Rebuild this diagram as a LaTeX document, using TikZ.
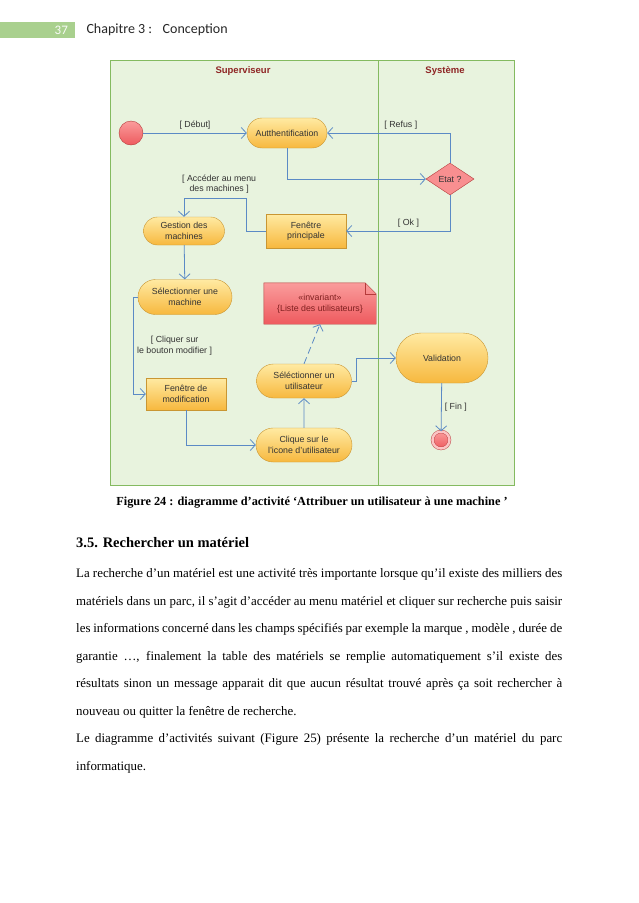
\documentclass[tikz,border=0pt]{standalone}
\usepackage{fontspec}
\setmainfont{Liberation Serif}
\setsansfont{Liberation Sans}
\newfontfamily\hdrfont{Carlito}
\usepackage{tikz}
\usetikzlibrary{arrows.meta,positioning,shapes.geometric,shapes.misc,backgrounds}
\definecolor{lanefill}{HTML}{E8F3DE}
\definecolor{laneline}{HTML}{84BA60}
\definecolor{flow}{HTML}{5B8AC5}
\definecolor{acttop}{HTML}{FFEAA2}
\definecolor{actbot}{HTML}{F7B83E}
\definecolor{actline}{HTML}{C99633}
\definecolor{redtop}{HTML}{FA9C9C}
\definecolor{redbot}{HTML}{EE5A5E}
\definecolor{redline}{HTML}{B53A3A}
\definecolor{lanetitle}{HTML}{8E2424}
\definecolor{hdrgreen}{HTML}{A9D08E}

\begin{document}
\begin{tikzpicture}[x=1pt,y=-1pt,>={Straight Barb[length=5pt,width=11pt]},
 lbl/.style={font=\sffamily\fontsize{8.8}{10.5}\selectfont,text=black!80,align=center,inner sep=1pt},
 act/.style={rounded rectangle,draw=actline,top color=acttop,bottom color=actbot,lbl,minimum height=28pt},
 win/.style={rectangle,draw=actline,top color=acttop,bottom color=actbot,lbl,minimum width=80pt,minimum height=33pt},
 decision/.style={diamond,draw=redline,fill=redtop!80!redbot,lbl,inner sep=0pt,minimum width=48pt,minimum height=32pt},
 lane/.style={draw=laneline,fill=lanefill,line width=0.8pt},
 lanename/.style={font=\sffamily\bfseries\fontsize{9.5}{11}\selectfont,text=lanetitle},
 flow/.style={draw=flow,line width=0.8pt,->},
 body/.style={font=\fontsize{12.9}{27.5}\selectfont,inner sep=0pt}]
\useasboundingbox (0,0) rectangle (638,903);
% page header
\node[fill=hdrgreen,minimum width=75pt,minimum height=16pt,inner sep=0pt,anchor=west] (bar) at (0,30) {};
\node[font=\hdrfont\fontsize{13}{15}\selectfont,text=white!92!hdrgreen,anchor=east] (pg) at ([xshift=-4pt]bar.east) {37};
\node[font=\hdrfont\fontsize{14}{16}\selectfont,text=black!85,anchor=west] (chap) at (83,30) {Chapitre 3 :~~ Conception};
% swimlanes
\begin{scope}[on background layer]
\draw[lane] (110,60) rectangle (378,485);
\draw[lane] (378,60) rectangle (514,485);
\end{scope}
\node[lanename] (sup) at (243,71) {Superviseur};
\node[lanename] (sys) at (445,71) {Système};
% activity nodes
\node[circle,draw=redline,top color=redtop,bottom color=redbot,minimum size=24pt,inner sep=0pt] (start) at (131,133) {};
\node[act,minimum width=82pt,minimum height=30pt] (auth) at (287,133) {Autthentification};
\node[decision] (etat) at (450,179) {Etat ?};
\node[win,minimum height=34pt] (fprinc) at (306,231) {Fenêtre\\principale};
\node[act,minimum width=83pt] (gestion) at (184,231) {Gestion des\\machines};
\node[act,minimum width=96pt,minimum height=35pt] (selmach) at (185,297) {Sélectionner une\\machine};
\node[win,minimum height=32pt] (fmodif) at (186,394) {Fenêtre de\\modification};
\node[act,minimum width=98pt,minimum height=34pt] (clique) at (304,445) {Clique sur le\\l'icone d'utilisateur};
\node[act,minimum width=97pt,minimum height=34pt] (selutil) at (304,381) {Séléctionner un\\utilisateur};
\node[lbl,text=lanetitle!90!black,minimum width=112pt,minimum height=41pt] (note) at (320,303.5) {«invariant»\\\{Liste des utilisateurs\}};
\node[act,minimum width=94pt,minimum height=50pt] (valid) at (442,358) {Validation};
\node[circle,draw=redline,top color=redtop,bottom color=redbot,minimum size=17pt,inner sep=0pt,double=redtop!60!white,double distance=2.5pt] (fin) at (441,440) {};
\begin{scope}[on background layer]
\draw[redline,top color=redtop,bottom color=redbot] (note.north west) -- ([xshift=-11pt]note.north east) -- ([yshift=-11pt]note.north east) -- (note.south east) -- (note.south west) -- cycle;
\draw[redline] ([xshift=-11pt]note.north east) -- ([xshift=-11pt,yshift=-11pt]note.north east) -- ([yshift=-11pt]note.north east);
\end{scope}
% control flows
\draw[flow] (start) -- node[lbl,above=2pt]{[ Début]} (auth);
\draw[flow] (auth.south) |- (etat.west);
\draw[flow] (etat.north) |- node[lbl,pos=0.7,above=2pt]{[ Refus ]} (auth.east);
\draw[flow] (etat.south) |- node[lbl,pos=0.7,above=2pt]{[ Ok ]} (fprinc.east);
\draw[flow] (fprinc.west) -- ++(-19,0) |- node[lbl,pos=0.72,above=4pt]{[ Accéder au menu\\des machines ]} ([yshift=18pt]gestion.north) -- (gestion.north);
\draw[flow] (gestion) -- (selmach);
\draw[flow] (selmach.west) -- ++(-4,0) |- node[lbl,pos=0.25,right=2pt]{[ Cliquer sur\\le bouton modifier ]} (fmodif.west);
\draw[flow] (fmodif.south) |- (clique.west);
\draw[flow] (clique) -- (selutil);
\draw[flow,dash pattern=on 7pt off 4pt] (selutil.north) -- (note.south);
\draw[flow] (selutil.east) -- ++(5,0) |- (valid.west);
\draw[flow] (valid) -- node[lbl,right=2pt]{[ Fin ]} (fin);
% caption and text
\node[font=\bfseries\fontsize{12.3}{14}\selectfont] (cap) at (312,503) {Figure 24 : diagramme d’activité ‘Attribuer un utilisateur à une machine ’};
\node[font=\bfseries\fontsize{14.5}{17}\selectfont,anchor=base west,inner sep=0pt] (sec) at (76,547) {3.5. Rechercher un matériel};
\node[body,text width=486pt,align=justify,anchor=base west] (para) at (76,577.5) {La recherche d’un matériel est une activité très importante lorsque qu’il existe des milliers des\linebreak
matériels dans un parc, il s’agit d’accéder au menu matériel et cliquer sur recherche puis saisir\linebreak
les informations concerné dans les champs spécifiés par exemple la marque , modèle , durée de\linebreak
garantie …, finalement la table des matériels se remplie automatiquement s’il existe des\linebreak
résultats sinon un message apparait dit que aucun résultat trouvé après ça soit rechercher à\linebreak
nouveau ou quitter la fenêtre de recherche.\\
Le diagramme d’activités suivant (Figure 25) présente la recherche d’un matériel du parc\linebreak
informatique.};
\end{tikzpicture}
\end{document}
